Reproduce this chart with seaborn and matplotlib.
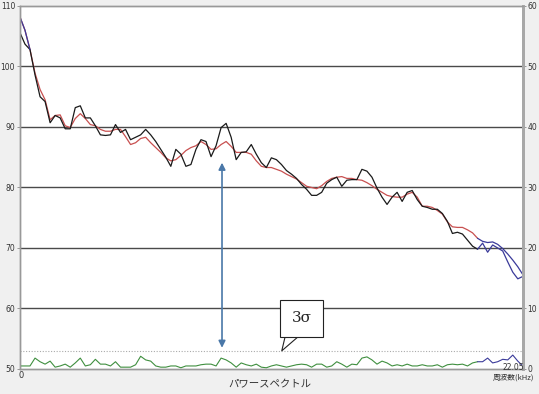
import numpy as np
import pandas as pd
import seaborn as sns
import matplotlib.pyplot as plt

# frequency axis (kHz), 101 equally spaced bins up to 22.05 kHz
freq_max = 22.05

# measured power spectrum (dB, left axis)
spectrum = [105.6, 103.7, 102.8, 98.6, 95.0, 94.2, 90.7, 91.9, 91.5, 89.7,
            89.7, 93.2, 93.5, 91.5, 91.5, 90.2, 88.7, 88.6, 88.7, 90.4,
            89.1, 89.6, 87.9, 88.3, 88.7, 89.6, 88.7, 87.6, 86.3, 85.0,
            83.5, 86.3, 85.5, 83.5, 83.8, 86.3, 87.9, 87.6, 85.1, 86.9,
            89.9, 90.6, 88.3, 84.6, 85.8, 85.9, 87.1, 85.5, 84.1, 83.3,
            84.9, 84.6, 83.8, 82.8, 82.2, 81.5, 80.5, 79.7, 78.7, 78.7,
            79.2, 80.7, 81.3, 81.7, 80.2, 81.2, 81.3, 81.3, 83.0, 82.7,
            81.7, 79.9, 78.4, 77.2, 78.4, 79.2, 77.7, 79.2, 79.5, 78.0,
            76.9, 76.7, 76.4, 76.4, 75.7, 74.4, 72.4, 72.6, 72.3, 71.3,
            70.3, 69.8, 70.8, 69.3, 70.5, 70.0, 69.5, 67.7, 66.0, 64.9,
            65.3]

# averaged spectrum (dB, left axis)
average = [108.2, 106.0, 102.8, 98.9, 96.2, 94.5, 91.2, 91.9, 92.0, 90.2,
           89.9, 91.4, 92.2, 91.4, 90.4, 90.2, 89.6, 89.3, 89.3, 89.6,
           89.6, 88.4, 87.1, 87.4, 88.1, 88.3, 87.4, 86.6, 85.8, 84.9,
           84.4, 84.6, 85.3, 86.1, 86.6, 86.9, 87.6, 87.1, 86.3, 86.4,
           87.1, 87.6, 86.8, 85.8, 85.8, 85.8, 85.5, 84.4, 83.5, 83.3,
           83.3, 83.0, 82.7, 82.2, 81.8, 81.4, 80.8, 80.2, 80.0, 79.8,
           80.3, 81.0, 81.5, 81.7, 81.8, 81.5, 81.5, 81.3, 81.2, 80.8,
           80.3, 79.7, 79.2, 78.7, 78.5, 78.4, 78.4, 78.9, 79.2, 78.4,
           76.9, 76.9, 76.7, 76.2, 75.6, 74.3, 73.5, 73.4, 73.4, 73.0,
           72.5, 71.6, 71.1, 70.9, 71.0, 70.6, 69.9, 69.0, 68.0, 66.9,
           65.6]

# deviation (right axis)
deviation = [0.5, 0.5, 0.5, 1.8, 1.2, 0.8, 1.3, 0.3, 0.5, 0.8,
             0.3, 1.0, 1.8, 0.5, 0.7, 1.6, 0.8, 0.8, 0.5, 1.2,
             0.3, 0.3, 0.3, 0.7, 2.1, 1.5, 1.3, 0.5, 0.3, 0.3,
             0.5, 0.5, 0.2, 0.5, 0.5, 0.5, 0.7, 0.8, 0.8, 0.5,
             1.8, 1.5, 1.0, 0.3, 1.0, 0.7, 0.5, 0.8, 0.3, 0.2,
             0.5, 0.7, 0.5, 0.3, 0.5, 0.7, 0.8, 0.7, 0.3, 0.8,
             0.8, 0.3, 0.5, 1.2, 0.8, 0.3, 0.8, 0.7, 1.8, 2.0,
             1.5, 0.8, 1.3, 1.0, 0.5, 0.7, 0.5, 0.8, 0.5, 0.5,
             0.7, 0.5, 0.5, 0.7, 0.3, 0.7, 0.8, 0.7, 0.8, 0.5,
             1.0, 1.2, 1.2, 1.8, 1.0, 1.2, 1.6, 1.5, 2.3, 1.3,
             0.5]

sigma3 = 2.9          # 3 sigma threshold (right axis)
band_low = 0.3        # kHz, below this drawn in blue
band_high = 20.2      # kHz, above this drawn in blue
arrow_freq = 8.86
arrow_top = 84.1
arrow_bottom = 53.5

freq = np.linspace(0, freq_max, len(spectrum))
df = pd.DataFrame({"freq": freq, "spectrum": spectrum,
                   "average": average, "deviation": deviation})

sns.set_theme(style="white")
plt.rcParams['font.family'] = ['DejaVu Sans']

fig = plt.figure(figsize=(5.39, 3.94), dpi=100, facecolor='#f0f0f0')
ax = fig.add_axes([0.037, 0.0635, 0.933, 0.9213])
ax2 = ax.twinx()

# split into normal band and edge bands
hi = df[df.freq >= band_high].index.min() - 1
lo = df[df.freq <= band_low].index.max() + 1
mid = df.iloc[:hi + 1]
top = df.iloc[hi:]
start = df.iloc[:lo + 1]

blue = '#3a3a9a'
sns.lineplot(data=mid, x="freq", y="average", color='#c85050', lw=0.9, ax=ax)
sns.lineplot(data=mid, x="freq", y="spectrum", color='#1a1a1a', lw=0.9, ax=ax)
sns.lineplot(data=top, x="freq", y="average", color=blue, lw=0.9, ax=ax)
sns.lineplot(data=top, x="freq", y="spectrum", color=blue, lw=0.9, ax=ax)
sns.lineplot(data=start, x="freq", y="average", color=blue, lw=0.9, ax=ax)

sns.lineplot(data=mid, x="freq", y="deviation", color='#3f8f3f', lw=0.8, ax=ax2)
sns.lineplot(data=top, x="freq", y="deviation", color=blue, lw=0.8, ax=ax2)
ax2.axhline(sigma3, color='#aaaaaa', lw=0.8, ls=(0, (1, 1.5)))

ax.set_xlim(0, freq_max)
ax.set_ylim(50, 110)
ax2.set_ylim(0, 60)
ax.set_yticks(np.arange(50, 111, 10))
ax2.set_yticks(np.arange(0, 61, 10))
ax.set_xticks([])
ax.set_xlabel("")
ax.set_ylabel("")
ax2.set_ylabel("")
for v in range(60, 110, 10):
    ax.axhline(v, color='#4a4a4a', lw=1.0, zorder=0)

ax.set_facecolor('white')
for a in (ax, ax2):
    a.tick_params(axis='y', labelsize=5.5, colors='#333333', length=2,
                  width=0.6, pad=1.5)
    a.tick_params(axis='y', which='both', color='#888888')
ax.tick_params(axis='y', left=True, right=False)
ax2.tick_params(axis='y', right=True, left=False)
for a in (ax, ax2):
    for side in ['top', 'bottom', 'left']:
        a.spines[side].set_color('#999999')
        a.spines[side].set_linewidth(1.0)
    a.spines['right'].set_color('#a8a8a8')
    a.spines['right'].set_linewidth(2.0)

# double headed arrow
ax.annotate("", xy=(arrow_freq, arrow_top), xytext=(arrow_freq, arrow_bottom),
            arrowprops=dict(arrowstyle='<|-|>', color='#4a78a8', lw=1.2,
                            mutation_scale=10, shrinkA=0, shrinkB=0))

# callout for the 3 sigma line
ax2.annotate("3σ", xy=(11.48, sigma3 + 0.1), xytext=(12.34, 8.4),
             fontsize=11, family='DejaVu Serif', ha='center', va='center',
             bbox=dict(boxstyle='square,pad=0.75', fc='white', ec='#222222',
                       lw=0.8),
             arrowprops=dict(arrowstyle='wedge,tail_width=0.7', fc='white',
                             ec='#222222', lw=0.8, shrinkA=0, shrinkB=0,
                             mutation_scale=20, patchA=None,
                             relpos=(0.3, 0.0)))

jp = ['Noto Sans CJK JP', 'DejaVu Sans']
fig.text(0.04, 0.048, "0", fontsize=6, color='#333333', ha='center', va='center')
fig.text(0.953, 0.066, "22.05", fontsize=5.5, color='#333333', ha='center',
         va='center')
fig.text(0.953, 0.042, "周波数(kHz)", fontsize=5.5, color='#333333',
         ha='center', va='center', family=jp)
fig.text(0.5, 0.024, "パワースペクトル", fontsize=7.5, color='#333333',
         ha='center', va='center', family=jp)

plt.savefig("out.png", dpi=100, facecolor=fig.get_facecolor())
